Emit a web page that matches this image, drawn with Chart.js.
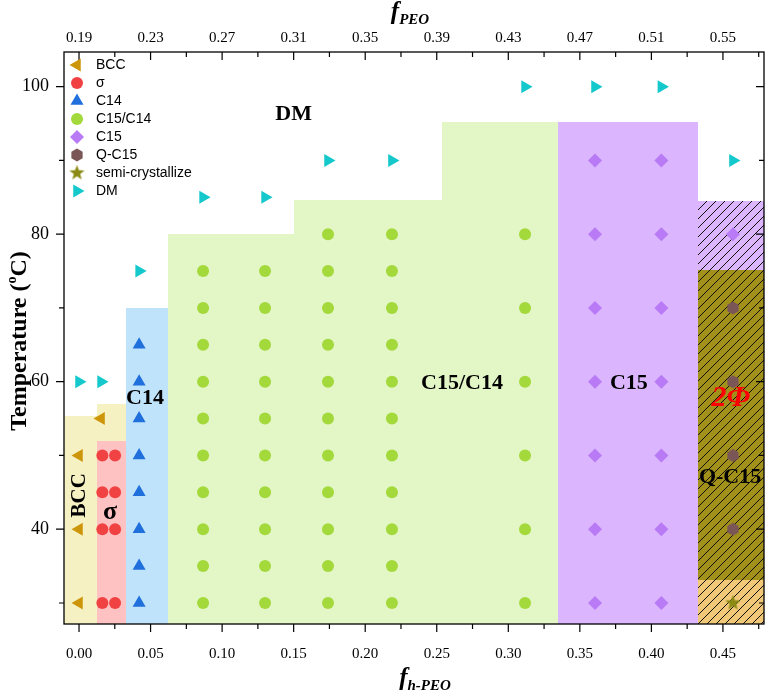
<!DOCTYPE html>
<html>
<head>
<meta charset="utf-8">
<script src="https://cdn.jsdelivr.net/npm/chart.js"></script>
<style>
html, body { margin: 0; padding: 0; background: #fff; }
</style>
</head>
<body>
<canvas id="phaseChart" width="768" height="691"></canvas>
<script>
// axis ranges (f_h-PEO on the bottom, temperature on the left)
const X_MIN = -0.0105, X_MAX = 0.4787;
const Y_MIN = 27.15, Y_MAX = 104.7;

// tick labels
const bottomTickLabels = ['0.00', '0.05', '0.10', '0.15', '0.20', '0.25', '0.30', '0.35', '0.40', '0.45'];
const topTickLabels = ['0.19', '0.23', '0.27', '0.31', '0.35', '0.39', '0.43', '0.47', '0.51', '0.55'];
const yTickLabels = ['40', '60', '80', '100'];

// measured points
const bccX = [0, 0, 0, 0.0154];
const bccY = [30, 40, 50, 55];
const sigmaX = [0.0163, 0.0252, 0.0163, 0.0252, 0.0163, 0.0252, 0.0163, 0.0252];
const sigmaY = [30, 30, 40, 40, 45, 45, 50, 50];
const c14X = [0.042, 0.042, 0.042, 0.042, 0.042, 0.042, 0.042, 0.042];
const c14Y = [30, 35, 40, 45, 50, 55, 60, 65];
const c15c14Cols = [0.0867, 0.130, 0.174, 0.2187, 0.3117];
const c15c14Temps = [
    [30, 35, 40, 45, 50, 55, 60, 65, 70, 75],
    [30, 35, 40, 45, 50, 55, 60, 65, 70, 75],
    [30, 35, 40, 45, 50, 55, 60, 65, 70, 75, 80],
    [30, 35, 40, 45, 50, 55, 60, 65, 70, 75, 80],
    [30, 40, 50, 60, 70, 80]
];
const c15Cols = [0.3606, 0.407, 0.457];
const c15Temps = [
    [30, 40, 50, 60, 70, 80, 90],
    [30, 40, 50, 60, 70, 80, 90],
    [80]
];
const qc15X = [0.457, 0.457, 0.457, 0.457];
const qc15Y = [40, 50, 60, 70];
const semiX = [0.457];
const semiY = [30];
const dmX = [0, 0.0154, 0.042, 0.0867, 0.130, 0.174, 0.2187, 0.3117, 0.3606, 0.407, 0.457];
const dmY = [60, 60, 75, 85, 85, 90, 90, 100, 100, 100, 90];

// phase regions (boundaries)
const regionX0 = [X_MIN, 0.0124, 0.0124, 0.0326, 0.0624, 0.150, 0.2537, 0.3345, 0.4325, 0.4325, 0.4325];
const regionX1 = [0.0124, 0.0326, 0.0326, 0.0624, 0.150, 0.2537, 0.3345, 0.4325, X_MAX, X_MAX, X_MAX];
const regionY0 = [Y_MIN, 52.0, Y_MIN, Y_MIN, Y_MIN, Y_MIN, Y_MIN, Y_MIN, 75.1, 33.1, Y_MIN];
const regionY1 = [55.3, 57.0, 52.0, 70.0, 80.0, 84.6, 95.2, 95.2, 84.5, 75.1, 33.1];
const regionColors = ['#f6f1c2', '#f6f1c2', '#ffc2c2', '#bfe3fb', '#e3f6c6', '#e3f6c6', '#e3f6c6',
    '#dbb5fe', '#dbb5fe', '#a1911a', '#f0c878'];
const hatchBox = [0.4325, X_MAX, Y_MIN, 84.5];

// phase names written in the diagram
const phaseText = ['DM', 'BCC', 'σ', 'C14', 'C15/C14', 'C15', '2Φ', 'Q-C15'];
const phaseTextX = [0.150, 0.0003, 0.0217, 0.0461, 0.2676, 0.3843, 0.4556, 0.455];
const phaseTextY = [96.3, 44.6, 42.3, 57.8, 59.8, 59.8, 57.8, 47.1];

const SERIF = '"Liberation Serif", "Times New Roman", serif';
const SANS = '"Liberation Sans", Arial, sans-serif';

function pts(xs, ys) {
    return xs.map((x, i) => ({ x: x, y: ys[i] }));
}

function cols(xs, temps) {
    const out = [];
    xs.forEach((x, i) => temps[i].forEach(t => out.push({ x: x, y: t })));
    return out;
}

// small canvases for the hexagon and filled star markers
function makeMarker(kind, color, size) {
    const c = document.createElement('canvas');
    c.width = size; c.height = size;
    const g = c.getContext('2d');
    const cx = size / 2, cy = size / 2, r = size / 2 - 0.5;
    g.fillStyle = color;
    g.beginPath();
    if (kind === 'hex') {
        for (let i = 0; i < 6; i++) {
            const a = Math.PI / 3 * i - Math.PI / 2;
            g.lineTo(cx + r * Math.cos(a), cy + r * Math.sin(a));
        }
    } else {
        for (let i = 0; i < 10; i++) {
            const a = Math.PI / 5 * i - Math.PI / 2;
            const rr = i % 2 === 0 ? r : r * 0.42;
            g.lineTo(cx + rr * Math.cos(a), cy + rr * Math.sin(a));
        }
    }
    g.closePath();
    g.fill();
    return c;
}

const hexImg = makeMarker('hex', '#7b5656', 14);
const starImg = makeMarker('star', '#8b8a14', 17);

function buildTicks(from, to, step) {
    const out = [];
    for (let v = from; v <= to + 1e-9; v += step) out.push({ value: Math.round(v * 1000) / 1000 });
    return out;
}

// draw one marker the same way as the dataset (used for the legend)
function drawMarker(ctx, ds, x, y) {
    const style = ds.pointStyle, r = ds.pointRadius;
    ctx.save();
    ctx.translate(x, y);
    ctx.rotate((ds.pointRotation || 0) * Math.PI / 180);
    ctx.fillStyle = ds.backgroundColor;
    if (style instanceof HTMLCanvasElement) {
        ctx.drawImage(style, -style.width / 2, -style.height / 2);
    } else {
        ctx.beginPath();
        if (style === 'triangle') {
            for (let i = 0; i < 3; i++) {
                const a = i * 2 * Math.PI / 3;
                ctx.lineTo(Math.sin(a) * r, -Math.cos(a) * r);
            }
        } else if (style === 'rectRot') {
            ctx.moveTo(0, -r); ctx.lineTo(r, 0); ctx.lineTo(0, r); ctx.lineTo(-r, 0);
        } else {
            ctx.arc(0, 0, r, 0, Math.PI * 2);
        }
        ctx.closePath();
        ctx.fill();
    }
    ctx.restore();
}

// draws a sequence of [text, font, dy] pieces centred on 0
function drawPieces(ctx, pieces) {
    let total = 0;
    pieces.forEach(p => { ctx.font = p[1]; total += ctx.measureText(p[0]).width; });
    let x = -total / 2;
    pieces.forEach(p => {
        ctx.font = p[1];
        ctx.fillText(p[0], x, p[2]);
        x += ctx.measureText(p[0]).width;
    });
}

const phasePlugin = {
    id: 'phasePlugin',
    beforeDatasetsDraw(chart) {
        const ctx = chart.ctx, xs = chart.scales.x, ys = chart.scales.y, a = chart.chartArea;
        ctx.save();
        ctx.beginPath();
        ctx.rect(a.left, a.top, a.right - a.left, a.bottom - a.top);
        ctx.clip();
        regionX0.forEach((x0, i) => {
            const px0 = Math.round(xs.getPixelForValue(x0));
            const px1 = Math.round(xs.getPixelForValue(regionX1[i]));
            const pyb = Math.round(ys.getPixelForValue(regionY0[i]));
            const pyt = Math.round(ys.getPixelForValue(regionY1[i]));
            ctx.fillStyle = regionColors[i];
            ctx.fillRect(px0, pyt, px1 - px0, pyb - pyt);
        });
        // hatching over the two-phase column
        const hx0 = Math.round(xs.getPixelForValue(hatchBox[0]));
        const hx1 = Math.round(xs.getPixelForValue(hatchBox[1]));
        const hyb = Math.round(ys.getPixelForValue(hatchBox[2]));
        const hyt = Math.round(ys.getPixelForValue(hatchBox[3]));
        ctx.beginPath();
        ctx.rect(hx0, hyt, hx1 - hx0, hyb - hyt);
        ctx.clip();
        ctx.beginPath();
        const h = hyb - hyt;
        for (let k = hx0 - h; k < hx1 + 10; k += 9) {
            ctx.moveTo(k, hyb);
            ctx.lineTo(k + h, hyt);
        }
        ctx.strokeStyle = '#111';
        ctx.lineWidth = 1;
        ctx.stroke();
        ctx.restore();
    },
    afterDatasetsDraw(chart) {
        const ctx = chart.ctx, xs = chart.scales.x, ys = chart.scales.y;
        ctx.save();
        ctx.textAlign = 'center';
        ctx.textBaseline = 'middle';
        phaseText.forEach((t, i) => {
            const px = xs.getPixelForValue(phaseTextX[i]);
            const py = ys.getPixelForValue(phaseTextY[i]);
            ctx.save();
            ctx.translate(px, py);
            ctx.fillStyle = '#000';
            ctx.font = 'bold 22px ' + SERIF;
            if (t === 'BCC') {
                ctx.rotate(-Math.PI / 2);
                ctx.font = 'bold 21px ' + SERIF;
            } else if (t === 'σ') {
                ctx.font = 'bold 26px ' + SERIF;
            } else if (t === '2Φ') {
                ctx.font = 'italic bold 30px ' + SERIF;
                ctx.fillStyle = '#ff0000';
            }
            ctx.fillText(t, 0, 0);
            ctx.restore();
        });
        ctx.restore();
    },
    afterDraw(chart) {
        const ctx = chart.ctx, a = chart.chartArea;
        const xs = chart.scales.x, x2 = chart.scales.x2, ys = chart.scales.y;
        ctx.save();
        // frame
        ctx.strokeStyle = '#000';
        ctx.lineWidth = 1.3;
        ctx.strokeRect(a.left, a.top, a.right - a.left, a.bottom - a.top);
        // ticks: outward on bottom/left, inward on top/right
        ctx.lineWidth = 1.2;
        ctx.beginPath();
        xs.ticks.forEach(t => {
            const p = xs.getPixelForValue(t.value), len = t.label ? 8 : 5;
            ctx.moveTo(p, a.bottom); ctx.lineTo(p, a.bottom + len);
        });
        x2.ticks.forEach(t => {
            const p = x2.getPixelForValue(t.value), len = t.label ? 8 : 5;
            ctx.moveTo(p, a.top); ctx.lineTo(p, a.top + len);
        });
        ys.ticks.forEach(t => {
            const p = ys.getPixelForValue(t.value), len = t.label ? 8 : 5;
            ctx.moveTo(a.left - len, p); ctx.lineTo(a.left, p);
            ctx.moveTo(a.right - len, p); ctx.lineTo(a.right, p);
        });
        ctx.stroke();

        // axis titles
        ctx.fillStyle = '#000';
        ctx.textBaseline = 'alphabetic';
        ctx.textAlign = 'left';
        ctx.save();
        ctx.translate(425, 685);
        drawPieces(ctx, [['f', 'italic bold 25px ' + SERIF, 0], ['h-PEO', 'italic bold 15px ' + SERIF, 5]]);
        ctx.restore();
        ctx.save();
        ctx.translate(410, 19);
        drawPieces(ctx, [['f', 'italic bold 25px ' + SERIF, 0], ['PEO', 'italic bold 15px ' + SERIF, 5]]);
        ctx.restore();
        ctx.save();
        ctx.translate(26, (a.top + a.bottom) / 2 + 3);
        ctx.rotate(-Math.PI / 2);
        drawPieces(ctx, [['Temperature (', 'bold 24px ' + SERIF, 0], ['o', 'bold 14px ' + SERIF, -10],
            ['C)', 'bold 24px ' + SERIF, 0]]);
        ctx.restore();

        // legend
        ctx.font = '14px ' + SANS;
        ctx.textBaseline = 'middle';
        chart.data.datasets.forEach((ds, i) => {
            const y = a.top + 13 + i * 18;
            drawMarker(ctx, ds, a.left + 13, y);
            ctx.fillStyle = '#000';
            ctx.fillText(ds.label, a.left + 32, y);
        });
        ctx.restore();
    }
};

const tickFont = { family: SERIF, size: 15 };

// pin the plot box: no extra room for overhanging tick labels
function fixHorizontal(h) {
    return s => { s.height = h; s.paddingLeft = 0; s.paddingRight = 0; };
}

new Chart(document.getElementById('phaseChart'), {
    type: 'scatter',
    data: {
        datasets: [
            { label: 'BCC', data: pts(bccX, bccY), pointStyle: 'triangle', pointRotation: -90, pointRadius: 7.5, backgroundColor: '#cd960a' },
            { label: 'σ', data: pts(sigmaX, sigmaY), pointStyle: 'circle', pointRadius: 6, backgroundColor: '#f04242' },
            { label: 'C14', data: pts(c14X, c14Y), pointStyle: 'triangle', pointRotation: 0, pointRadius: 7.5, backgroundColor: '#1f6fdc' },
            { label: 'C15/C14', data: cols(c15c14Cols, c15c14Temps), pointStyle: 'circle', pointRadius: 6, backgroundColor: '#a3d93a' },
            { label: 'C15', data: cols(c15Cols, c15Temps), pointStyle: 'rectRot', pointRadius: 7, backgroundColor: '#b97af5' },
            { label: 'Q-C15', data: pts(qc15X, qc15Y), pointStyle: hexImg, pointRadius: 7, backgroundColor: '#7b5656' },
            { label: 'semi-crystallize', data: pts(semiX, semiY), pointStyle: starImg, pointRadius: 8, backgroundColor: '#8b8a14' },
            { label: 'DM', data: pts(dmX, dmY), pointStyle: 'triangle', pointRotation: 90, pointRadius: 7.5, backgroundColor: '#14c8cc' }
        ].map(ds => Object.assign(ds, { borderWidth: 0, pointBorderWidth: 0, pointHoverRadius: ds.pointRadius }))
    },
    options: {
        responsive: false,
        animation: false,
        events: [],
        layout: { autoPadding: false, padding: { left: 0, right: 4, top: 0, bottom: 0 } },
        plugins: { legend: { display: false }, tooltip: { enabled: false } },
        scales: {
            x: {
                type: 'linear', position: 'bottom', min: X_MIN, max: X_MAX,
                grid: { display: false, drawTicks: false }, border: { display: false },
                afterBuildTicks: s => { s.ticks = buildTicks(0, 0.475, 0.025); },
                afterFit: fixHorizontal(67),
                ticks: {
                    autoSkip: false, maxRotation: 0, padding: 21, color: '#000', font: tickFont,
                    callback: v => bottomTickLabels.includes(v.toFixed(2)) ? v.toFixed(2) : ''
                }
            },
            x2: {
                type: 'linear', position: 'top', min: 0.19 + 0.8 * X_MIN, max: 0.19 + 0.8 * X_MAX,
                grid: { display: false, drawTicks: false }, border: { display: false },
                afterBuildTicks: s => { s.ticks = buildTicks(0.19, 0.57, 0.02); },
                afterFit: fixHorizontal(52),
                ticks: {
                    autoSkip: false, maxRotation: 0, padding: 5, color: '#000', font: tickFont,
                    callback: v => topTickLabels.includes(v.toFixed(2)) ? v.toFixed(2) : ''
                }
            },
            y: {
                type: 'linear', position: 'left', min: Y_MIN, max: Y_MAX,
                grid: { display: false, drawTicks: false }, border: { display: false },
                afterBuildTicks: s => { s.ticks = buildTicks(30, 100, 10); },
                afterFit: s => { s.width = 64; s.paddingTop = 0; s.paddingBottom = 0; },
                ticks: {
                    autoSkip: false, padding: 15, color: '#000', font: { family: SERIF, size: 18 },
                    callback: v => yTickLabels.includes(String(Math.round(v))) ? String(Math.round(v)) : ''
                }
            }
        }
    },
    plugins: [phasePlugin]
});
</script>
</body>
</html>
